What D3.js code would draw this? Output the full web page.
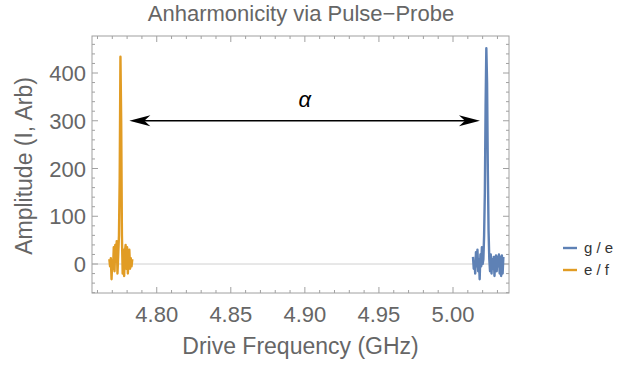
<!DOCTYPE html>
<html lang="en">
<head>
    <meta charset="UTF-8" />
    <title>Anharmonicity via Pulse-Probe</title>
    <script src="https://d3js.org/d3.v7.min.js"></script>
    <style>
        body { margin: 0; background: #fff; }
        text { font-family: "Liberation Sans", Arial, sans-serif; }
    </style>
</head>
<body>
    <script>
        var w = 626;
        var h = 368;

        // g / e transition (blue)
        var geFreq = [5.0135, 5.0140, 5.0145, 5.0150, 5.0155, 5.0160, 5.0165, 5.0170, 5.0175, 5.0180,
                      5.0185, 5.0190, 5.0195, 5.0200, 5.0205, 5.0210, 5.0215, 5.0220, 5.0225, 5.0230,
                      5.0235, 5.0240, 5.0245, 5.0250, 5.0255, 5.0260, 5.0265, 5.0270, 5.0275, 5.0280,
                      5.0285, 5.0290, 5.0295, 5.0300, 5.0305, 5.0310, 5.0315, 5.0320, 5.0325, 5.0330,
                      5.0335, 5.0340];
        var geAmp = [15, -10, 5, -20, 25, -5, 30, -15, 10, -32,
                     20, -5, 35, 0, 10, 60, 150, 330, 452, 380,
                     200, 70, 10, -15, 20, -20, 10, -10, 15, -25,
                     5, 18, -15, 15, -5, 20, -20, 15, -25, 18,
                     -20, 15];

        // e / f transition (orange)
        var efFreq = [4.7680, 4.7685, 4.7690, 4.7695, 4.7700, 4.7705, 4.7710, 4.7715, 4.7720, 4.7725,
                      4.7730, 4.7735, 4.7740, 4.7745, 4.7750, 4.7755, 4.7760, 4.7765, 4.7770, 4.7775,
                      4.7780, 4.7785, 4.7790, 4.7795, 4.7800, 4.7805, 4.7810, 4.7815, 4.7820, 4.7825,
                      4.7830, 4.7835];
        var efAmp = [10, -5, 12, -32, 8, -10, 35, -15, 40, 5,
                     48, -20, 20, 60, 180, 434, 300, 60, -20, 30,
                     -25, 25, 40, -10, 35, -20, 15, 30, -10, 12,
                     -5, 10];

        var seriesNames = ["g / e", "e / f"];
        var seriesColors = ["#5e81b5", "#e19c24"];

        var xTicks = [4.80, 4.85, 4.90, 4.95, 5.00];
        var yTicks = [0, 100, 200, 300, 400];

        // alpha arrow endpoints (frequency) and its height (amplitude)
        var arrowFreq = [4.7815, 5.0182];
        var arrowAmp = 300;

        var svg = d3.select("body")
            .append("svg")
            .attr("width", w)
            .attr("height", h);

        var plotL = 92, plotR = 509, plotT = 36, plotB = 293;

        var xScale = d3.scaleLinear()
            .domain([4.7563, 5.0378])
            .range([plotL, plotR]);

        var yScale = d3.scaleLinear()
            .domain([-60.7, 477.5])
            .range([plotB, plotT]);

        var frameColor = "#a0a0a0";
        var labelColor = "#666";

        // zero line
        svg.append("line")
            .attr("x1", plotL).attr("x2", plotR)
            .attr("y1", yScale(0)).attr("y2", yScale(0))
            .attr("stroke", "#d0d0d0")
            .attr("stroke-width", 1);

        // frame
        svg.append("rect")
            .attr("x", plotL).attr("y", plotT)
            .attr("width", plotR - plotL).attr("height", plotB - plotT)
            .attr("fill", "none")
            .attr("stroke", frameColor)
            .attr("stroke-width", 1);

        // ticks (inside the frame, on all four sides)
        var xMinor = d3.range(4.76, 5.04, 0.01).map(function(d) { return +d.toFixed(2); });
        var yMinor = d3.range(-60, 480, 20);

        var tickG = svg.append("g").attr("stroke", frameColor).attr("stroke-width", 1);

        xMinor.forEach(function(d) {
            if (xScale(d) < plotL || xScale(d) > plotR) return;
            var major = xTicks.some(function(t) { return Math.abs(t - d) < 1e-6; });
            var len = major ? 6 : 3;
            tickG.append("line").attr("x1", xScale(d)).attr("x2", xScale(d))
                .attr("y1", plotB).attr("y2", plotB - len);
            tickG.append("line").attr("x1", xScale(d)).attr("x2", xScale(d))
                .attr("y1", plotT).attr("y2", plotT + len);
        });

        yMinor.forEach(function(d) {
            if (yScale(d) < plotT || yScale(d) > plotB) return;
            var major = d % 100 === 0;
            var len = major ? 6 : 3;
            tickG.append("line").attr("x1", plotL).attr("x2", plotL + len)
                .attr("y1", yScale(d)).attr("y2", yScale(d));
            tickG.append("line").attr("x1", plotR).attr("x2", plotR - len)
                .attr("y1", yScale(d)).attr("y2", yScale(d));
        });

        // tick labels
        svg.selectAll(".xlab")
            .data(xTicks)
            .enter()
            .append("text")
            .attr("x", function(d) { return xScale(d); })
            .attr("y", 322)
            .attr("text-anchor", "middle")
            .attr("font-size", 22)
            .attr("fill", labelColor)
            .text(function(d) { return d.toFixed(2); });

        svg.selectAll(".ylab")
            .data(yTicks)
            .enter()
            .append("text")
            .attr("x", 86)
            .attr("y", function(d) { return yScale(d) + 8; })
            .attr("text-anchor", "end")
            .attr("font-size", 22)
            .attr("fill", labelColor)
            .text(function(d) { return d; });

        // axis titles
        svg.append("text")
            .attr("x", (plotL + plotR) / 2)
            .attr("y", 354)
            .attr("text-anchor", "middle")
            .attr("font-size", 23)
            .attr("fill", labelColor)
            .text("Drive Frequency (GHz)");

        svg.append("text")
            .attr("transform", "translate(32," + 166 + ") rotate(-90)")
            .attr("text-anchor", "middle")
            .attr("font-size", 23)
            .attr("fill", labelColor)
            .text("Amplitude (I, Arb)");

        svg.append("text")
            .attr("x", 301)
            .attr("y", 21)
            .attr("text-anchor", "middle")
            .attr("font-size", 22)
            .attr("fill", labelColor)
            .text("Anharmonicity via Pulse\u2212Probe");

        // data lines
        var line = d3.line()
            .x(function(d) { return xScale(d[0]); })
            .y(function(d) { return yScale(d[1]); });

        var series = [d3.zip(geFreq, geAmp), d3.zip(efFreq, efAmp)];

        svg.append("defs").append("clipPath").attr("id", "clip")
            .append("rect").attr("x", plotL).attr("y", plotT)
            .attr("width", plotR - plotL).attr("height", plotB - plotT);

        svg.selectAll(".series")
            .data(series)
            .enter()
            .append("path")
            .attr("clip-path", "url(#clip)")
            .attr("d", line)
            .attr("fill", "none")
            .attr("stroke", function(d, i) { return seriesColors[i]; })
            .attr("stroke-width", 2.4)
            .attr("stroke-linejoin", "round");

        // alpha arrow
        var ay = yScale(arrowAmp);
        var ax1 = xScale(arrowFreq[0]);
        var ax2 = xScale(arrowFreq[1]);
        svg.append("line")
            .attr("x1", ax1 + 10).attr("x2", ax2 - 10)
            .attr("y1", ay).attr("y2", ay)
            .attr("stroke", "#000")
            .attr("stroke-width", 1.5);

        function arrowHead(tip, dir) {
            // dir = +1 points right, -1 points left
            var L = 21, hw = 5.5, notch = 15;
            var p = [
                [tip, ay],
                [tip - dir * L, ay - hw],
                [tip - dir * notch, ay],
                [tip - dir * L, ay + hw]
            ];
            svg.append("path")
                .attr("d", "M" + p.map(function(q) { return q.join(","); }).join("L") + "Z")
                .attr("fill", "#000");
        }
        arrowHead(ax1, -1);
        arrowHead(ax2, 1);

        svg.append("text")
            .attr("x", xScale(4.90))
            .attr("y", yScale(328))
            .attr("text-anchor", "middle")
            .attr("font-size", 22)
            .attr("font-style", "italic")
            .attr("fill", "#000")
            .text("\u03b1");

        // legend
        var legend = svg.selectAll(".legend")
            .data(seriesNames)
            .enter()
            .append("g")
            .attr("transform", function(d, i) { return "translate(563," + (248 + i * 22) + ")"; });

        legend.append("line")
            .attr("x1", 0).attr("x2", 14)
            .attr("y1", 0).attr("y2", 0)
            .attr("stroke", function(d, i) { return seriesColors[i]; })
            .attr("stroke-width", 2.4);

        legend.append("text")
            .attr("x", 21)
            .attr("y", 5)
            .attr("font-size", 15)
            .attr("fill", "#333")
            .text(function(d) { return d; });
    </script>
</body>
</html>
